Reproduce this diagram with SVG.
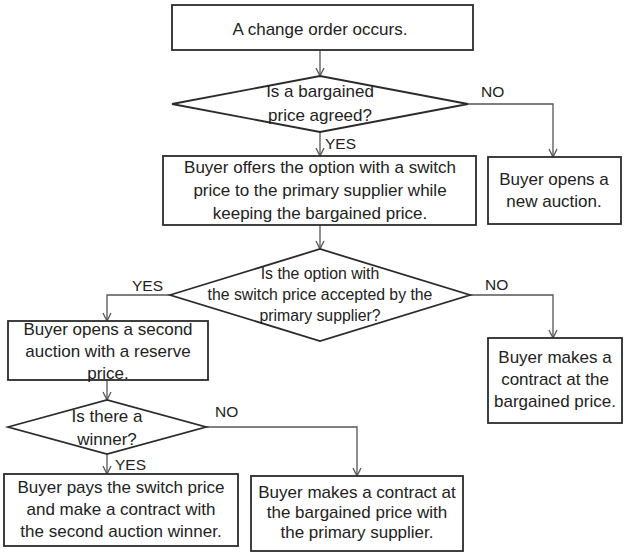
<svg xmlns="http://www.w3.org/2000/svg" width="628" height="555" viewBox="0 0 628 555">
<defs>
<style>
.box{fill:#fff;stroke:#2b2b2b;stroke-width:1.8}
.t{font-family:"Liberation Sans",Arial,sans-serif;font-size:17px;fill:#222;text-anchor:middle}
.ts{font-family:"Liberation Sans",Arial,sans-serif;font-size:15.8px;fill:#222;text-anchor:middle}
.lbl{font-family:"Liberation Sans",Arial,sans-serif;font-size:15.5px;fill:#222}
.c{fill:none;stroke:#555;stroke-width:1.3}
</style>
<marker id="ah" viewBox="0 0 10 10" refX="9" refY="5" markerWidth="10" markerHeight="10" markerUnits="userSpaceOnUse" orient="auto">
<path d="M1,1 L9,5 L1,9" fill="none" stroke="#555" stroke-width="1.3"/>
</marker>
</defs>
<rect width="628" height="555" fill="#fff"/>
<g id="connectors">
<path class="c" d="M320,50 V76" marker-end="url(#ah)"/>
<path class="c" d="M468,104 H553 V157" marker-end="url(#ah)"/>
<path class="c" d="M320,132 V156" marker-end="url(#ah)"/>
<path class="c" d="M320,225 V249" marker-end="url(#ah)"/>
<path class="c" d="M170,295 H107 V321" marker-end="url(#ah)"/>
<path class="c" d="M470,295 H553 V338" marker-end="url(#ah)"/>
<path class="c" d="M107,380 V400" marker-end="url(#ah)"/>
<path class="c" d="M206,427 H357 V476" marker-end="url(#ah)"/>
<path class="c" d="M107,454 V474" marker-end="url(#ah)"/>
<text class="lbl" x="481" y="97">NO</text>
<text class="lbl" x="325" y="149">YES</text>
<text class="lbl" x="132" y="291">YES</text>
<text class="lbl" x="485" y="290">NO</text>
<text class="lbl" x="215" y="417">NO</text>
<text class="lbl" x="115" y="470">YES</text>
</g>
<g id="start">
<rect class="box" x="172" y="5" width="301" height="45"/>
<text class="t" x="320" y="35">A change order occurs.</text>
</g>
<g id="d1">
<polygon class="box" points="172,104 320,76 468,104 320,132"/>
<text class="t" x="320" y="97">Is a bargained</text>
<text class="t" x="320" y="121">price agreed?</text>
</g>
<g id="offer">
<rect class="box" x="163" y="156" width="313" height="69"/>
<text class="t" x="320" y="173">Buyer offers the option with a switch</text>
<text class="t" x="320" y="196">price to the primary supplier while</text>
<text class="t" x="320" y="219">keeping the bargained price.</text>
</g>
<g id="newauction">
<rect class="box" x="488" y="157" width="133" height="67"/>
<text class="t" x="554" y="185">Buyer opens a</text>
<text class="t" x="554" y="207">new auction.</text>
</g>
<g id="d2">
<polygon class="box" points="170,295 320,249 470,295 320,341"/>
<text class="ts" x="320" y="279">Is the option with</text>
<text class="ts" x="320" y="300">the switch price accepted by the</text>
<text class="ts" x="320" y="321">primary supplier?</text>
</g>
<g id="second">
<rect class="box" x="8" y="321" width="200" height="59"/>
<text class="t" x="108" y="335">Buyer opens a second</text>
<text class="t" x="108" y="357">auction with a reserve</text>
<text class="t" x="108" y="379">price.</text>
</g>
<g id="contract1">
<rect class="box" x="488" y="338" width="134" height="85"/>
<text class="t" x="555" y="363">Buyer makes a</text>
<text class="t" x="555" y="385">contract at the</text>
<text class="t" x="555" y="407">bargained price.</text>
</g>
<g id="d3">
<polygon class="box" points="8,427 107,400 206,427 107,454"/>
<text class="t" x="107" y="422">Is there a</text>
<text class="t" x="107" y="445">winner?</text>
</g>
<g id="pays">
<rect class="box" x="4" y="474" width="234" height="72"/>
<text class="t" x="121" y="493">Buyer pays the switch price</text>
<text class="t" x="121" y="515">and make a contract with</text>
<text class="t" x="121" y="537">the second auction winner.</text>
</g>
<g id="contract2">
<rect class="box" x="251" y="476" width="212" height="75"/>
<text class="t" x="357" y="498">Buyer makes a contract at</text>
<text class="t" x="357" y="518">the bargained price with</text>
<text class="t" x="357" y="538">the primary supplier.</text>
</g>
</svg>
